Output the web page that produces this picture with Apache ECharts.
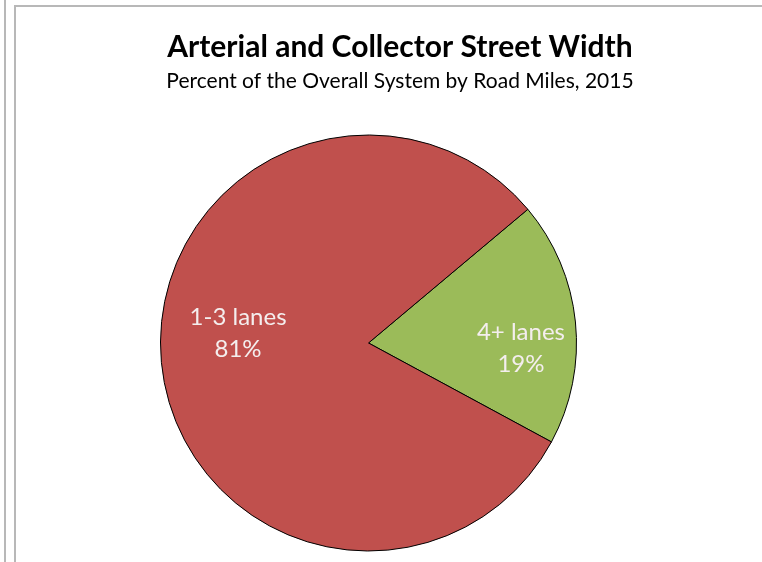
<!DOCTYPE html>
<html>
<head>
<meta charset="utf-8">
<script src="https://cdn.jsdelivr.net/npm/echarts@6/dist/echarts.min.js"></script>
<style>html,body{margin:0;padding:0;background:#fff;}#c{width:762px;height:562px;}</style>
</head>
<body>
<div id="c"></div>
<script>
var categories = ['4+ lanes', '1-3 lanes'];
var values = [19, 81];
var colors = ['#9BBB59', '#C0504D'];
var titleText = 'Arterial and Collector Street Width';
var subtitleText = 'Percent of the Overall System by Road Miles, 2015';

var chart = echarts.init(document.getElementById('c'));
var labelShift = [[46, 16], [-24, -21]];
chart.setOption({
  backgroundColor: '#fff',
  animation: false,
  title: [{
    text: titleText,
    left: 395, top: 25, textAlign: 'center',
    textStyle: {fontFamily: 'Lato', fontWeight: 'bold', fontSize: 30, color: '#000', lineHeight: 35}
  }, {
    text: subtitleText,
    left: 395, top: 64, textAlign: 'center',
    textStyle: {fontFamily: 'Lato', fontWeight: 'normal', fontSize: 21, color: '#000', lineHeight: 24}
  }],
  graphic: [
    {type: 'line', shape: {x1: 5, y1: 0, x2: 5, y2: 562}, style: {stroke: '#b8b8b8', lineWidth: 2}},
    {type: 'line', shape: {x1: 15, y1: 6, x2: 15, y2: 562}, style: {stroke: '#b8b8b8', lineWidth: 2}},
    {type: 'line', shape: {x1: 14, y1: 6, x2: 762, y2: 6}, style: {stroke: '#b8b8b8', lineWidth: 2}}
  ],
  series: [{
    type: 'pie',
    center: [368.5, 343],
    radius: [0, 208],
    startAngle: 40,
    clockwise: true,
    avoidLabelOverlap: false,
    data: categories.map(function (c, i) {
      return {name: c, value: values[i], itemStyle: {color: colors[i]}};
    }),
    itemStyle: {borderColor: '#000', borderWidth: 1},
    label: {
      show: true,
      position: 'inside',
      formatter: function (p) { return p.name + '\n' + Math.round(p.percent) + '%'; },
      fontFamily: 'Lato', fontSize: 24, lineHeight: 32, color: '#f4eeee'
    },
    labelLine: {show: false},
    labelLayout: function (p) {
      var s = labelShift[p.dataIndex];
      return {dx: s[0], dy: s[1]};
    },
    emphasis: {disabled: true}
  }]
});
</script>
</body>
</html>
